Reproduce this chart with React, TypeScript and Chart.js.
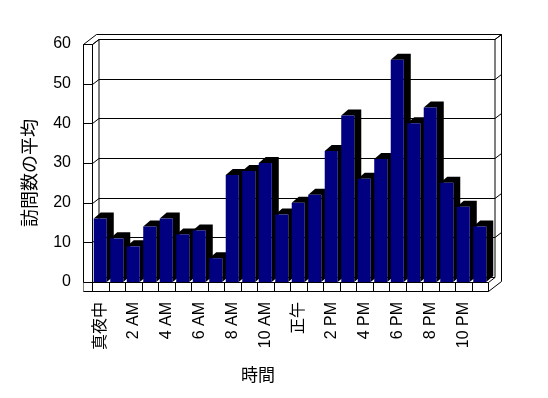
import React, { useEffect, useRef } from 'react';
import { Chart, registerables } from 'chart.js';

Chart.register(...registerables);

const hours = [
  '真夜中', '1 AM', '2 AM', '3 AM', '4 AM', '5 AM', '6 AM', '7 AM', '8 AM', '9 AM', '10 AM', '11 AM',
  '正午', '1 PM', '2 PM', '3 PM', '4 PM', '5 PM', '6 PM', '7 PM', '8 PM', '9 PM', '10 PM', '11 PM',
];
const visits = [16, 11, 9, 14, 16, 12, 13, 6, 27, 28, 30, 17, 20, 22, 33, 42, 26, 31, 56, 40, 44, 25, 19, 14];
const yTicks = [0, 10, 20, 30, 40, 50, 60];
const labelEvery = 2;
const yTitle = '訪問数の平均';
const xTitle = '時間';

const FONT = '"Liberation Sans", "Noto Sans CJK JP", sans-serif';
const CJK = '"Noto Sans CJK JP", "Liberation Sans", sans-serif';

// wall depth and bar depth (oblique projection)
const WDX = 6.5, WDY = -5;
const BDX = 7, BDY = -6;
const SLAB = 9;

const frame3d = {
  id: 'frame3d',
  beforeDatasetsDraw(chart: any) {
    const ctx = chart.ctx as CanvasRenderingContext2D;
    const ca = chart.chartArea;
    const L = Math.round(ca.left) + 0.5;
    const R = Math.round(ca.right) + 0.5;
    const T = Math.round(ca.top) + 0.5;
    const B = Math.round(ca.bottom) + 0.5;
    const ys = chart.scales.y;
    const xs = chart.scales.x;
    ctx.save();
    ctx.fillStyle = '#fff';
    ctx.strokeStyle = '#000';
    ctx.lineWidth = 1;
    const line = (x1: number, y1: number, x2: number, y2: number) => {
      ctx.beginPath();
      ctx.moveTo(x1, y1);
      ctx.lineTo(x2, y2);
      ctx.stroke();
    };
    const OL = L - SLAB;
    // left wall front face
    line(OL, T, OL, B + SLAB);
    line(L, T, L, B);
    line(OL, T, L, T);
    // top edges of left wall
    line(OL, T, OL + 2 * WDX, T + 2 * WDY);
    line(L, T, L + WDX, T + WDY);
    // back wall
    line(OL + 2 * WDX, T + 2 * WDY, R + 2 * WDX, T + 2 * WDY);
    line(L + WDX, T + WDY, R + WDX, T + WDY);
    line(L + WDX, T + WDY, L + WDX, B + WDY);
    line(R + WDX, T + WDY, R + WDX, B + WDY);
    line(R + WDX, T + WDY, R + 2 * WDX, T + 2 * WDY);
    line(R + 2 * WDX, T + 2 * WDY, R + 2 * WDX, B + SLAB + 2 * WDY);
    line(L + WDX, B + WDY, R + WDX, B + WDY);
    // grid lines on the back wall + ticks on left wall
    yTicks.forEach((v) => {
      const py = Math.round(ys.getPixelForValue(v)) + 0.5;
      line(OL, py, L, py);
      if (v === 0) return;
      line(L, py, L + WDX, py + WDY);
      line(L + WDX, py + WDY, R + WDX, py + WDY);
      line(R + WDX, py + WDY, R + 2 * WDX, py + 2 * WDY);
    });
    // floor slab front face
    ctx.fillRect(OL, B, R - OL, SLAB);
    line(OL, B, R, B);
    line(OL, B + SLAB, R, B + SLAB);
    line(R, B, R, B + SLAB);
    line(R, B, R + WDX, B + WDY);
    line(R, B + SLAB, R + 2 * WDX, B + SLAB + 2 * WDY);
    const n = hours.length;
    for (let i = 0; i < n; i++) {
      const px = Math.round(xs.getPixelForValue(i) - (xs.width / n) / 2) + 0.5;
      line(px, B, px, B + SLAB);
    }
    // bar depth (top + side), drawn in black
    const meta = chart.getDatasetMeta(0);
    ctx.fillStyle = '#000';
    meta.data.forEach((bar: any) => {
      const p = bar.getProps(['x', 'y', 'base', 'width'], true);
      const l = p.x - p.width / 2;
      const r = p.x + p.width / 2;
      ctx.beginPath();
      ctx.moveTo(l, p.y);
      ctx.lineTo(l + BDX, p.y + BDY);
      ctx.lineTo(r + BDX, p.y + BDY);
      ctx.lineTo(r + BDX, p.base + BDY);
      ctx.lineTo(r, p.base);
      ctx.lineTo(r, p.y);
      ctx.closePath();
      ctx.fill();
    });
    ctx.restore();
  },
  afterDraw(chart: any) {
    const ctx = chart.ctx as CanvasRenderingContext2D;
    ctx.save();
    ctx.fillStyle = '#000';
    ctx.textAlign = 'center';
    ctx.textBaseline = 'middle';
    ctx.font = `18px ${CJK}`;
    ctx.translate(29, 173);
    ctx.rotate(-Math.PI / 2);
    ctx.fillText(yTitle, 0, 0);
    ctx.restore();
    ctx.save();
    ctx.fillStyle = '#000';
    ctx.textAlign = 'center';
    ctx.textBaseline = 'middle';
    ctx.font = `17px ${CJK}`;
    ctx.fillText(xTitle, 258, 375);
    ctx.restore();
  },
};

export default function App() {
  const ref = useRef<HTMLCanvasElement>(null);
  useEffect(() => {
    if (!ref.current) return;
    const chart = new Chart(ref.current, {
      type: 'bar',
      data: {
        labels: hours,
        datasets: [
          {
            data: visits,
            backgroundColor: '#000080',
            borderWidth: 0,
            barPercentage: 0.79,
            categoryPercentage: 1,
          },
        ],
      },
      options: {
        responsive: false,
        animation: false,
        devicePixelRatio: 1,
        layout: { padding: { top: 44, right: 60, left: 0, bottom: 0 } },
        plugins: {
          legend: { display: false },
          tooltip: { enabled: false },
        },
        scales: {
          x: {
            grid: { display: false, drawTicks: false },
            border: { display: false },
            ticks: {
              autoSkip: false,
              minRotation: 90,
              maxRotation: 90,
              padding: 20,
              color: '#000',
              font: { family: FONT, size: 16 },
              callback: (_v: any, i: number) => (i % labelEvery === 0 ? hours[i] : ''),
            },
            afterFit: (s: any) => {
              s.height = 116;
            },
          },
          y: {
            min: 0,
            max: 60,
            grid: { display: false, drawTicks: false },
            border: { display: false },
            ticks: {
              padding: 21,
              color: '#000',
              font: { family: FONT, size: 16 },
            },
            afterBuildTicks: (s: any) => {
              s.ticks = yTicks.map((v) => ({ value: v }));
            },
            afterFit: (s: any) => {
              s.width = 92;
            },
          },
        },
      } as any,
      plugins: [frame3d],
    });
    return () => chart.destroy();
  }, []);
  return (
    <div style={{ position: 'fixed', left: 0, top: 0, width: 548, height: 398, background: '#fff' }}>
      <canvas ref={ref} width={548} height={398} style={{ display: 'block' }} />
    </div>
  );
}
